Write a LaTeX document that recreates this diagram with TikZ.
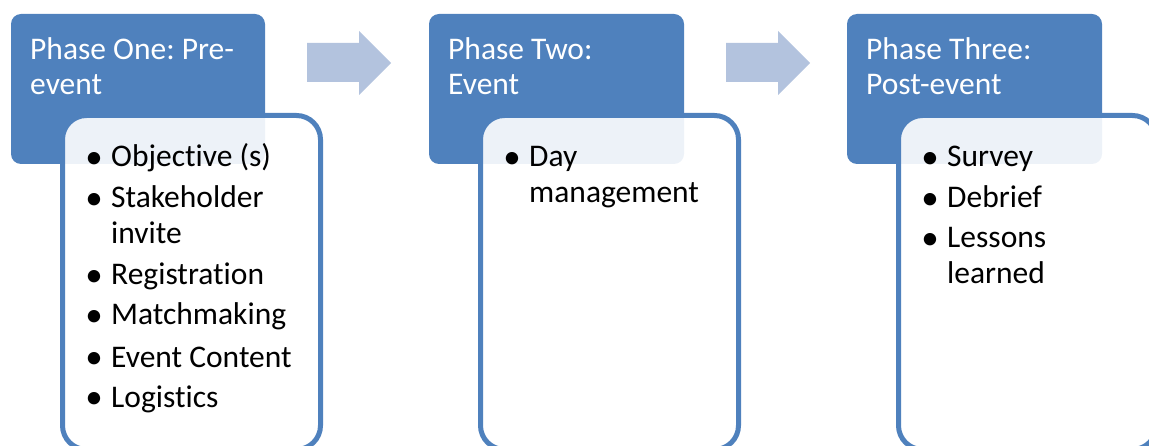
\documentclass[tikz,border=0pt]{standalone}
\usepackage{fontspec}
\setmainfont{Carlito}[Ligatures=NoCommon]
\frenchspacing
\definecolor{hdrblue}{HTML}{4F81BD}
\definecolor{arrblue}{HTML}{B3C3DE}
\tikzset{
  hdrbox/.style={fill=hdrblue, draw=none, rounded corners=10pt},
  listbox/.style={fill=white, fill opacity=0.9, draw=hdrblue, line width=5pt, rounded corners=24pt},
  hdrtext/.style={anchor=base west, inner sep=0pt, text=white, font=\fontsize{31.5}{36}\selectfont},
  itemtext/.style={anchor=base west, inner sep=0pt, text=black, font=\fontsize{31.5}{36}\selectfont},
  bullettext/.style={anchor=base, inner sep=0pt, text=black, font=\fontsize{35}{35}\selectfont},
  flowarrow/.style={fill=arrblue, draw=none}
}
\begin{document}
\begin{tikzpicture}[x=1pt, y=-1pt]
\useasboundingbox (0,0) rectangle (1149,446);
\clip (0,0) rectangle (1149,446);
% arrows
\fill[flowarrow] (307,43) -- (359,43) -- (359,31) -- (391,63) -- (359,95) -- (359,82) -- (307,82) -- cycle;
\fill[flowarrow] (726,43) -- (778,43) -- (778,31) -- (810,63) -- (778,95) -- (778,82) -- (726,82) -- cycle;
% phase one
\path[hdrbox] (11,14) rectangle (265,164);
\path[listbox] (62.5,115.5) rectangle (320.5,449.5);
\node[hdrtext] (h1a) at (30,60) {Phase One: Pre-};
\node[hdrtext] (h1b) at (30,95) {event};
\node[bullettext] (d11) at (94,168.5) {•};
\node[itemtext] (t11) at (111,167) {Objective (s)};
\node[bullettext] (d12) at (94,209.5) {•};
\node[itemtext] (t12) at (111,208) {Stakeholder};
\node[itemtext] (t12b) at (111,244) {invite};
\node[bullettext] (d13) at (94,286.5) {•};
\node[itemtext] (t13) at (111,285) {Registration};
\node[bullettext] (d14) at (94,326.5) {•};
\node[itemtext] (t14) at (111,325) {Matchmaking};
\node[bullettext] (d15) at (94,368.5) {•};
\node[itemtext] (t15) at (111,367) {Event Content};
\node[bullettext] (d16) at (94,408.5) {•};
\node[itemtext] (t16) at (111,407) {Logistics};
% phase two
\path[hdrbox] (429,14) rectangle (684,164);
\path[listbox] (480.5,115.5) rectangle (738.5,449.5);
\node[hdrtext] (h2a) at (448,60) {Phase Two:};
\node[hdrtext] (h2b) at (448,95) {Event};
\node[bullettext] (d21) at (512,168.5) {•};
\node[itemtext] (t21) at (529,167) {Day};
\node[itemtext] (t21b) at (529,203) {management};
% phase three
\path[hdrbox] (847,14) rectangle (1102,164);
\path[listbox] (898.5,115.5) rectangle (1156.5,449.5);
\node[hdrtext] (h3a) at (866,60) {Phase Three:};
\node[hdrtext] (h3b) at (866,95) {Post-event};
\node[bullettext] (d31) at (930,168.5) {•};
\node[itemtext] (t31) at (947,167) {Survey};
\node[bullettext] (d32) at (930,209.5) {•};
\node[itemtext] (t32) at (947,208) {Debrief};
\node[bullettext] (d33) at (930,249.5) {•};
\node[itemtext] (t33) at (947,248) {Lessons};
\node[itemtext] (t33b) at (947,284) {learned};
\end{tikzpicture}
\end{document}
